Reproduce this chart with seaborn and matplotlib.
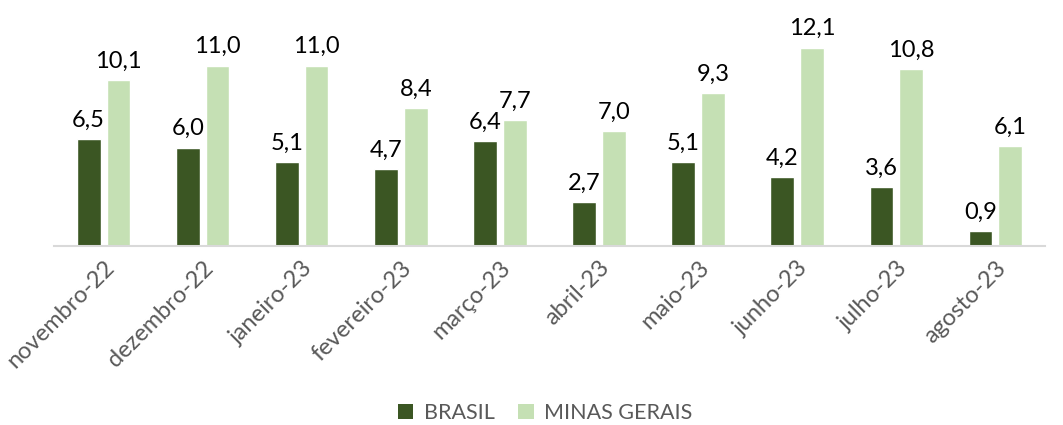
import matplotlib
matplotlib.use("Agg")
import matplotlib.pyplot as plt
import seaborn as sns
import pandas as pd
from matplotlib.patches import Patch

categories = ["novembro-22", "dezembro-22", "janeiro-23", "fevereiro-23", "março-23",
              "abril-23", "maio-23", "junho-23", "julho-23", "agosto-23"]
brasil = [6.5, 6.0, 5.1, 4.7, 6.4, 2.7, 5.1, 4.2, 3.6, 0.9]
minas_gerais = [10.1, 11.0, 11.0, 8.4, 7.7, 7.0, 9.3, 12.1, 10.8, 6.1]
series_names = ["BRASIL", "MINAS GERAIS"]
colors = ["#3B5623", "#C5E0B4"]

df = pd.DataFrame({
    "mes": categories * 2,
    "valor": brasil + minas_gerais,
    "serie": [series_names[0]] * len(categories) + [series_names[1]] * len(categories),
})

sns.set_theme(style="white")
plt.rcParams["font.family"] = ["Lato", "DejaVu Sans"]

fig = plt.figure(figsize=(10.63, 4.25), dpi=100)
ax = fig.add_axes([0.0508, 0.4212, 0.9322, 0.5788])

sns.barplot(data=df, x="mes", y="valor", hue="serie", order=categories,
            hue_order=series_names, palette=colors, width=0.6, gap=0.2,
            ax=ax, legend=False, saturation=1)

for container in ax.containers:
    labels = [f"{b.get_height():.1f}".replace(".", ",") for b in container]
    ax.bar_label(container, labels=labels, padding=6, fontsize=17, color="#000000")

ax.set_ylim(0, 15)
ax.set_xlim(-0.5, len(categories) - 0.5)
ax.set_xlabel("")
ax.set_ylabel("")
ax.set_yticks([])
for s in ["top", "right", "left"]:
    ax.spines[s].set_visible(False)
ax.spines["bottom"].set_color("#D9D9D9")
ax.spines["bottom"].set_linewidth(1.5)
ax.tick_params(axis="x", length=0, pad=8)
plt.setp(ax.get_xticklabels(), rotation=45, ha="right", rotation_mode="anchor",
         fontsize=17, color="#595959")

handles = [Patch(facecolor=c, edgecolor="none") for c in colors]
fig.legend(handles, series_names, loc="center", bbox_to_anchor=(0.513, 0.028),
           ncol=2, frameon=False, fontsize=15.5, labelcolor="#595959",
           handlelength=0.7, handleheight=0.7, columnspacing=1.1, handletextpad=0.5)

fig.savefig("out.png", dpi=100)
